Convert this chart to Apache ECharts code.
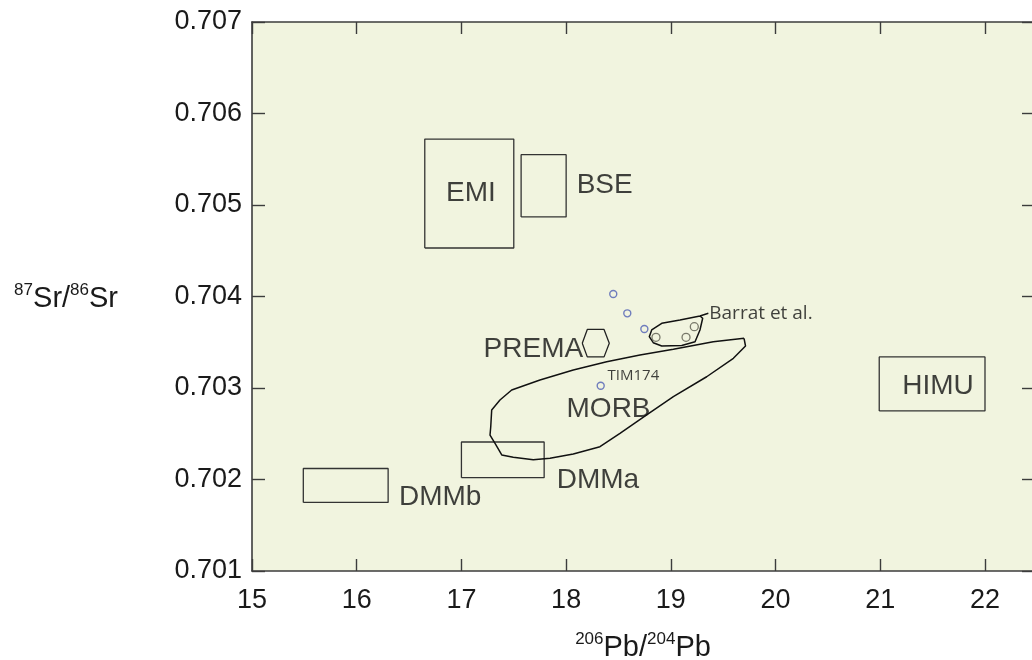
<!DOCTYPE html>
<html>
<head>
<meta charset="utf-8">
<script src="https://cdn.jsdelivr.net/npm/echarts@6/dist/echarts.min.js"></script>
<style>
html,body{margin:0;padding:0;background:#fff;}
#chart{width:1032px;height:660px;}
</style>
</head>
<body>
<div id="chart"></div>
<script>
// ---- tick values ----
const xTicks = [15, 16, 17, 18, 19, 20, 21, 22];
const yTicks = [0.701, 0.702, 0.703, 0.704, 0.705, 0.706, 0.707];

// ---- rectangular fields: [xMin, xMax, yMin, yMax] ----
const emiBox  = [16.65, 17.50, 0.70453, 0.70572];
const bseBox  = [17.57, 18.00, 0.70487, 0.70555];
const dmmaBox = [17.00, 17.79, 0.70202, 0.70241];
const dmmbBox = [15.49, 16.30, 0.70175, 0.70212];
const himuBox = [20.99, 22.00, 0.70275, 0.70334];

// ---- PREMA hexagon ----
const premaHex = [
  [18.154, 0.70349], [18.202, 0.70364], [18.362, 0.70364],
  [18.412, 0.70349], [18.362, 0.70334], [18.202, 0.70334], [18.154, 0.70349]
];

// ---- MORB field outline ----
const morbField = [
  [19.699, 0.703543], [19.713, 0.703459], [19.597, 0.703325], [19.342, 0.703123],
  [19.024, 0.702905], [18.769, 0.702705], [18.514, 0.702505], [18.323, 0.702358],
  [18.068, 0.702279], [17.846, 0.702232], [17.686, 0.702215], [17.495, 0.702243],
  [17.385, 0.702268], [17.321, 0.702396], [17.273, 0.702486], [17.280, 0.702577],
  [17.289, 0.702760], [17.368, 0.702869], [17.480, 0.702978], [17.750, 0.703087],
  [18.068, 0.703197], [18.387, 0.703287], [18.705, 0.703361], [19.024, 0.703423],
  [19.405, 0.703506], [19.699, 0.703543]
];

// ---- Barrat et al. field (with leader to its label) ----
const barratField = [
  [19.358, 0.703816], [19.278, 0.703787], [19.087, 0.703743], [18.913, 0.703707],
  [18.817, 0.703634], [18.794, 0.703561], [18.832, 0.703495], [18.913, 0.703459],
  [19.104, 0.703464], [19.231, 0.703506], [19.278, 0.703634], [19.304, 0.703762],
  [19.278, 0.703787]
];

// ---- samples ----
const barratSamples = [[18.858, 0.703554], [19.145, 0.703554], [19.224, 0.703670]];
const thisStudy = [[18.450, 0.704027], [18.584, 0.703816], [18.747, 0.703645], [18.330, 0.703025]];

// ---- field labels: [x, y, text] ----
const bigLabels = [
  [17.09, 0.705128, 'EMI'],
  [18.368, 0.705219, 'BSE'],
  [17.687, 0.703423, 'PREMA'],
  [18.405, 0.702763, 'MORB'],
  [18.304, 0.701995, 'DMMa'],
  [16.797, 0.701803, 'DMMb'],
  [21.551, 0.703019, 'HIMU']
];
const smallLabels = [
  [18.642, 0.703133, 'TIM174']
];
const leftLabels = [
  [19.367, 0.703815, 'Barrat et al.']
];

function boxPath(b) {
  return [[b[0], b[2]], [b[1], b[2]], [b[1], b[3]], [b[0], b[3]], [b[0], b[2]]];
}

const chart = echarts.init(document.getElementById('chart'), null, {renderer: 'canvas'});

const XMIN = 15, XMAX = 22.468, YMIN = 0.701, YMAX = 0.707;
const axisColor = '#3c3c3c';
const fontMain = '"Liberation Sans", Arial, sans-serif';
const fontSmall = '"Open Sans", "Noto Sans", sans-serif';

function lineSeries(data, color, width) {
  return {
    type: 'line', data: data, symbol: 'none', silent: true,
    lineStyle: {color: color, width: width}, animation: false, z: 3
  };
}

const series = [
  lineSeries(boxPath(emiBox), '#333', 1.3),
  lineSeries(boxPath(bseBox), '#333', 1.3),
  lineSeries(boxPath(dmmaBox), '#333', 1.3),
  lineSeries(boxPath(dmmbBox), '#333', 1.3),
  lineSeries(boxPath(himuBox), '#333', 1.3),
  lineSeries(premaHex, '#222', 1.3),
  lineSeries(morbField, '#111', 1.5),
  lineSeries(barratField, '#111', 1.5),
  {
    type: 'scatter', data: barratSamples, symbol: 'circle', symbolSize: 8, silent: true,
    itemStyle: {color: 'rgba(0,0,0,0)', borderColor: '#5a5a4c', borderWidth: 1.3}, animation: false, z: 4
  },
  {
    type: 'scatter', data: thisStudy, symbol: 'circle', symbolSize: 7, silent: true,
    itemStyle: {color: 'rgba(0,0,0,0)', borderColor: '#4f5fb4', borderWidth: 1.4}, animation: false, z: 4
  },
  {
    type: 'scatter', symbolSize: 0, silent: true, animation: false, z: 5,
    data: bigLabels.map(d => ({value: [d[0], d[1]], name: d[2]})),
    label: {show: true, position: 'inside', formatter: '{b}', fontFamily: fontMain,
      fontSize: 28, color: '#111', align: 'center', verticalAlign: 'middle'}
  },
  {
    type: 'scatter', symbolSize: 0, silent: true, animation: false, z: 5,
    data: smallLabels.map(d => ({value: [d[0], d[1]], name: d[2]})),
    label: {show: true, position: 'inside', formatter: '{b}', fontFamily: fontSmall,
      fontSize: 15, color: '#111', align: 'center', verticalAlign: 'middle'}
  },
  {
    type: 'scatter', symbolSize: 0, silent: true, animation: false, z: 5,
    data: leftLabels.map(d => ({value: [d[0], d[1]], name: d[2]})),
    label: {show: true, position: 'right', distance: 0, formatter: '{b}', fontFamily: fontSmall,
      fontSize: 19, color: '#111'}
  }
];

const supStyle = {fontSize: 17, fontFamily: fontMain, color: '#1a1a1a', verticalAlign: 'top', lineHeight: 17};
const baseStyle = {fontSize: 29, fontFamily: fontMain, color: '#1a1a1a', lineHeight: 34};

const option = {
  animation: false,
  backgroundColor: '#ffffff',
  grid: {
    left: 252, top: 22, width: 782, height: 549,
    outerBoundsMode: 'none', containLabel: false,
    show: true, backgroundColor: '#f1f4df', borderWidth: 0
  },
  xAxis: [
    {
      type: 'value', position: 'bottom', min: XMIN, max: XMAX, interval: 1,
      axisLine: {show: true, lineStyle: {color: axisColor, width: 1.6}},
      axisTick: {show: true, inside: true, length: 12, customValues: xTicks, lineStyle: {color: axisColor, width: 1.4}},
      axisLabel: {show: true, customValues: xTicks, margin: 16, fontSize: 27, fontFamily: fontMain, color: '#1a1a1a',
        formatter: v => String(v)},
      splitLine: {show: false},
      name: '{s|206}{b|Pb/}{s|204}{b|Pb}', nameLocation: 'middle', nameGap: 60,
      nameTextStyle: {rich: {s: supStyle, b: baseStyle}}
    },
    {
      type: 'value', position: 'top', min: XMIN, max: XMAX, interval: 1,
      axisLine: {show: true, lineStyle: {color: axisColor, width: 1.6}},
      axisTick: {show: true, inside: true, length: 12, customValues: xTicks, lineStyle: {color: axisColor, width: 1.4}},
      axisLabel: {show: false},
      splitLine: {show: false}
    }
  ],
  yAxis: [
    {
      type: 'value', position: 'left', min: YMIN, max: YMAX, interval: 0.001,
      axisLine: {show: true, lineStyle: {color: axisColor, width: 1.6}},
      axisTick: {show: true, inside: true, length: 13, customValues: yTicks, lineStyle: {color: axisColor, width: 1.4}},
      axisLabel: {show: true, customValues: yTicks, margin: 10, fontSize: 27, fontFamily: fontMain, color: '#1a1a1a',
        formatter: v => Number(v).toFixed(3)},
      splitLine: {show: false},
      name: '{s|87}{b|Sr/}{s|86}{b|Sr}', nameLocation: 'middle', nameRotate: 0, nameGap: 134,
      nameTextStyle: {rich: {s: supStyle, b: baseStyle}, padding: [4, 0, 0, 0]}
    },
    {
      type: 'value', position: 'right', min: YMIN, max: YMAX, interval: 0.001,
      axisLine: {show: true, lineStyle: {color: axisColor, width: 1.6}},
      axisTick: {show: true, inside: true, length: 12, customValues: yTicks, lineStyle: {color: axisColor, width: 1.4}},
      axisLabel: {show: false},
      splitLine: {show: false}
    }
  ],
  series: series
};

chart.setOption(option);
</script>
</body>
</html>
